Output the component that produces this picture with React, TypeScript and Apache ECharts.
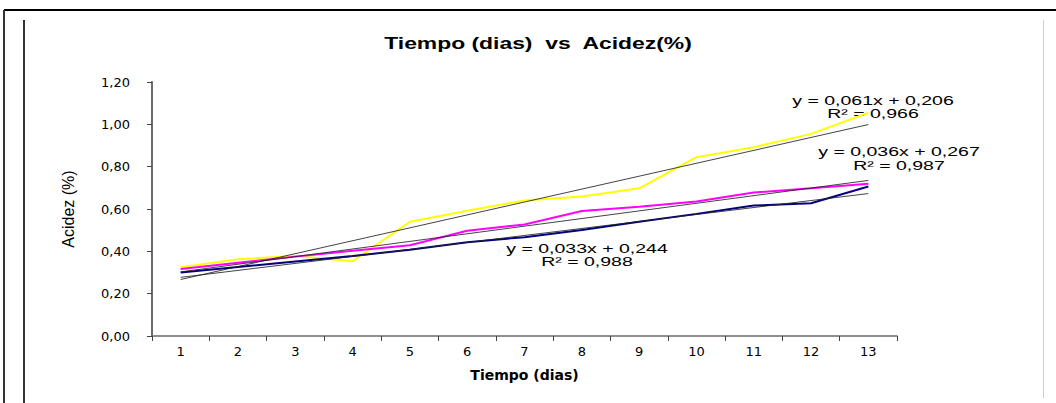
import React, { useEffect, useRef } from "react";
import * as echarts from "echarts";

const dias = ["1", "2", "3", "4", "5", "6", "7", "8", "9", "10", "11", "12", "13"];
const acidezAmarillo = [0.325, 0.363, 0.378, 0.353, 0.54, 0.592, 0.64, 0.659, 0.698, 0.845, 0.892, 0.955, 1.055];
const acidezMagenta = [0.317, 0.346, 0.375, 0.403, 0.429, 0.497, 0.527, 0.591, 0.611, 0.635, 0.678, 0.698, 0.719];
const acidezAzul = [0.3, 0.326, 0.352, 0.378, 0.407, 0.443, 0.467, 0.501, 0.54, 0.577, 0.616, 0.627, 0.706];
// trend line end values at day 1 and day 13 (from the fitted equations)
const tendAmarilloEnds = [0.267, 0.999];
const tendMagentaEnds = [0.303, 0.735];
const tendAzulEnds = [0.277, 0.673];
const yTicks = [0, 1.2, 0.2];

const eqAmarillo = ["y = 0,061x + 0,206", "R² = 0,966"];
const eqMagenta = ["y = 0,036x + 0,267", "R² = 0,987"];
const eqAzul = ["y = 0,033x + 0,244", "R² = 0,988"];

function trendArray(ends: number[]) {
  return dias.map((_, i) => (i === 0 ? ends[0] : i === dias.length - 1 ? ends[1] : null));
}

function eqTexts(lines: string[], cx: number, y1: number, y2: number) {
  return lines.map((t, i) => ({
    type: "text",
    x: cx,
    y: i === 0 ? y1 : y2,
    scaleX: 1.5,
    style: {
      text: t,
      font: "13px 'Liberation Sans', Arial, sans-serif",
      fill: "#000",
      textAlign: "center",
      textVerticalAlign: "middle",
    },
  }));
}

export default function App() {
  const ref = useRef<HTMLDivElement>(null);
  useEffect(() => {
    if (!ref.current) return;
    const chart = echarts.init(ref.current, null, { renderer: "svg" });
    const trendStyle = { color: "#222", width: 1, opacity: 0.85 };
    chart.setOption({
      animation: false,
      backgroundColor: "#fff",
      grid: { left: 152, right: 159, top: 82, bottom: 67 },
      xAxis: {
        type: "category",
        data: dias,
        boundaryGap: true,
        name: "Tiempo (dias)",
        nameLocation: "middle",
        nameGap: 32,
        nameTextStyle: { fontFamily: "DejaVu Sans", fontWeight: "bold", fontSize: 14, color: "#000" },
        axisLine: { lineStyle: { color: "#6a6a6a", width: 1.5 } },
        axisTick: { show: true, length: 5, alignWithLabel: false, lineStyle: { color: "#444" } },
        axisLabel: { fontFamily: "DejaVu Sans", fontSize: 13, color: "#000", margin: 9 },
        splitLine: { show: false },
      },
      yAxis: {
        type: "value",
        min: yTicks[0],
        max: yTicks[1],
        interval: yTicks[2],
        name: "Acidez (%)",
        nameLocation: "middle",
        nameGap: 76,
        nameRotate: 90,
        nameTextStyle: { fontFamily: "'Liberation Sans Narrow', 'Liberation Sans', sans-serif", fontSize: 16, color: "#000" },
        axisLine: { show: true, lineStyle: { color: "#6a6a6a", width: 2 } },
        axisTick: { show: true, length: 5, lineStyle: { color: "#444" } },
        axisLabel: {
          fontFamily: "DejaVu Sans",
          fontSize: 13,
          color: "#000",
          margin: 22,
          formatter: (v: number) => v.toFixed(2).replace(".", ","),
        },
        splitLine: { show: false },
      },
      series: [
        { type: "line", data: acidezAmarillo, symbol: "none", lineStyle: { color: "#ffff00", width: 2 }, z: 2 },
        { type: "line", data: acidezMagenta, symbol: "none", lineStyle: { color: "#ff00ff", width: 2 }, z: 2 },
        { type: "line", data: acidezAzul, symbol: "none", lineStyle: { color: "#000080", width: 2 }, z: 2 },
        { type: "line", data: trendArray(tendAmarilloEnds), connectNulls: true, symbol: "none", lineStyle: trendStyle, z: 3 },
        { type: "line", data: trendArray(tendMagentaEnds), connectNulls: true, symbol: "none", lineStyle: trendStyle, z: 3 },
        { type: "line", data: trendArray(tendAzulEnds), connectNulls: true, symbol: "none", lineStyle: trendStyle, z: 3 },
      ],
      graphic: [
        { type: "line", shape: { x1: 4, y1: 10, x2: 1056, y2: 10 }, style: { stroke: "#000", lineWidth: 2 } },
        { type: "line", shape: { x1: 4, y1: 10, x2: 4, y2: 403 }, style: { stroke: "#333", lineWidth: 2 } },
        { type: "line", shape: { x1: 24, y1: 20, x2: 24, y2: 403 }, style: { stroke: "#333", lineWidth: 2 } },
        { type: "line", shape: { x1: 1043.5, y1: 20, x2: 1043.5, y2: 398 }, style: { stroke: "#cfcfcf", lineWidth: 1 } },
        {
          type: "text",
          x: 538,
          y: 43,
          scaleX: 1.43,
          style: {
            text: "Tiempo (dias)  vs  Acidez(%)",
            font: "bold 16px 'Liberation Sans', Arial, sans-serif",
            fill: "#000",
            textAlign: "center",
            textVerticalAlign: "middle",
          },
        },
        ...eqTexts(eqAmarillo, 873, 101, 114),
        ...eqTexts(eqMagenta, 899, 152, 166),
        ...eqTexts(eqAzul, 587, 249, 262),
      ],
    });
    return () => chart.dispose();
  }, []);
  return <div ref={ref} style={{ position: "fixed", left: 0, top: 0, width: 1056, height: 403 }} />;
}
